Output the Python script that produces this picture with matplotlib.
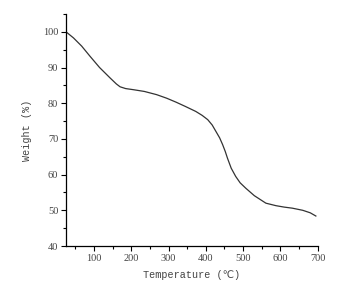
import matplotlib
matplotlib.use("Agg")
import matplotlib.pyplot as plt
from matplotlib.ticker import MultipleLocator

# TGA curve
temperature = [25, 45, 67, 89, 115, 143, 160, 170, 185, 205, 235, 268, 295, 320,
               345, 373, 390, 405, 417, 427, 437, 445, 452, 458, 468, 480, 492,
               507, 530, 561, 588, 610, 632, 660, 680, 695]
weight = [100, 98.3, 96, 93.2, 90.0, 87.1, 85.4, 84.6, 84.1, 83.8, 83.3, 82.4,
          81.4, 80.3, 79.1, 77.7, 76.6, 75.4, 73.9, 72.1, 70.3, 68.4, 66.5,
          64.6, 61.8, 59.5, 57.7, 56.2, 54.1, 52.0, 51.3, 50.9, 50.6, 50.0,
          49.3, 48.4]

x_ticks = [100, 200, 300, 400, 500, 600, 700]
y_ticks = [40, 50, 60, 70, 80, 90, 100]

serif = ["Liberation Serif", "DejaVu Serif"]
mono = ["Liberation Mono", "DejaVu Sans Mono", "DejaVu Sans"]

fig = plt.figure(figsize=(3.52, 2.91), dpi=100)
ax = fig.add_axes([0.1875, 0.1546, 0.7151, 0.7974])
ax.plot(temperature, weight, color="#333333", linewidth=0.9)

ax.set_xlim(25, 700)
ax.set_ylim(40, 105)
ax.set_xticks(x_ticks)
ax.set_yticks(y_ticks)
ax.xaxis.set_minor_locator(MultipleLocator(50))
ax.yaxis.set_minor_locator(MultipleLocator(5))
ax.tick_params(which="major", direction="out", length=3.5, width=0.8, labelsize=7.5, pad=2)
ax.tick_params(which="minor", direction="out", length=2, width=0.8)
for lab in ax.get_xticklabels() + ax.get_yticklabels():
    lab.set_family(serif)
    lab.set_color("#444444")

for side in ("top", "right"):
    ax.spines[side].set_visible(False)
for side in ("left", "bottom"):
    ax.spines[side].set_linewidth(0.9)

ax.set_xlabel("Temperature (\u2103)", family=mono, fontsize=7.3, color="#444444", labelpad=5)
ax.set_ylabel("Weight (%)", family=mono, fontsize=7.3, color="#444444", labelpad=8)

fig.savefig("out.png", dpi=100)
